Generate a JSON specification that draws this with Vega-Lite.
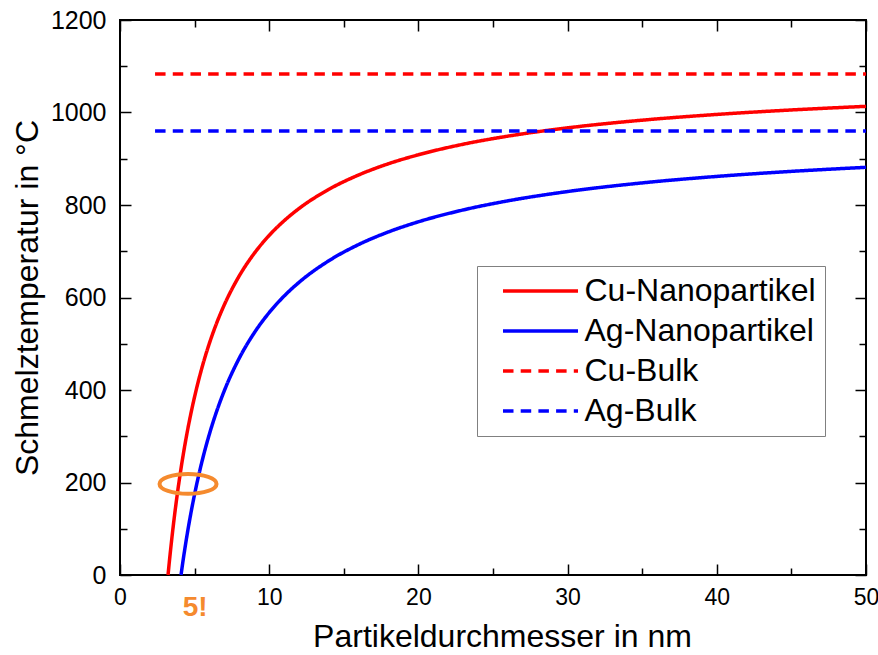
{
  "$schema": "https://vega.github.io/schema/vega-lite/v6.json",
  "width": 746,
  "height": 555,
  "autosize": "none",
  "padding": {"left": 120, "top": 20, "right": 12, "bottom": 80},
  "config": {
    "view": {"stroke": "black", "strokeWidth": 2},
    "font": "Liberation Sans",
    "axis": {
      "domain": false, "grid": false, "tickColor": "black", "tickWidth": 1.5,
      "labelColor": "black", "titleColor": "black", "labelFont": "Liberation Sans",
      "titleFont": "Liberation Sans", "titleFontWeight": "normal", "labelFlush": false
    },
    "legend": {
      "orient": "none", "legendX": 357, "legendY": 246, "padding": 9, "rowPadding": 8,
      "strokeColor": "#808080", "fillColor": "white", "labelFontSize": 32,
      "labelFont": "Liberation Sans", "labelColor": "black", "labelLimit": 400,
      "symbolType": "M-1,0L4.556,0", "symbolSize": 729, "symbolStrokeWidth": 3.5,
      "symbolOffset": 14.5, "labelOffset": 52
    }
  },
  "datasets": {
    "curves": [
      {"d": 3.22, "T": 0, "series": "Cu-Nanopartikel"},
      {"d": 3.3, "T": 26.3, "series": "Cu-Nanopartikel"},
      {"d": 3.4, "T": 57.3, "series": "Cu-Nanopartikel"},
      {"d": 3.5, "T": 86.6, "series": "Cu-Nanopartikel"},
      {"d": 3.6, "T": 114.3, "series": "Cu-Nanopartikel"},
      {"d": 3.8, "T": 165.3, "series": "Cu-Nanopartikel"},
      {"d": 4.0, "T": 211.2, "series": "Cu-Nanopartikel"},
      {"d": 4.25, "T": 262.5, "series": "Cu-Nanopartikel"},
      {"d": 4.5, "T": 308.1, "series": "Cu-Nanopartikel"},
      {"d": 4.75, "T": 348.8, "series": "Cu-Nanopartikel"},
      {"d": 5, "T": 385.5, "series": "Cu-Nanopartikel"},
      {"d": 5.5, "T": 449.0, "series": "Cu-Nanopartikel"},
      {"d": 6, "T": 501.8, "series": "Cu-Nanopartikel"},
      {"d": 6.5, "T": 546.5, "series": "Cu-Nanopartikel"},
      {"d": 7, "T": 584.8, "series": "Cu-Nanopartikel"},
      {"d": 8, "T": 647.1, "series": "Cu-Nanopartikel"},
      {"d": 9, "T": 695.5, "series": "Cu-Nanopartikel"},
      {"d": 10, "T": 734.3, "series": "Cu-Nanopartikel"},
      {"d": 11, "T": 766.0, "series": "Cu-Nanopartikel"},
      {"d": 12, "T": 792.4, "series": "Cu-Nanopartikel"},
      {"d": 14, "T": 833.9, "series": "Cu-Nanopartikel"},
      {"d": 16, "T": 865.0, "series": "Cu-Nanopartikel"},
      {"d": 18, "T": 889.3, "series": "Cu-Nanopartikel"},
      {"d": 20, "T": 908.6, "series": "Cu-Nanopartikel"},
      {"d": 23, "T": 931.4, "series": "Cu-Nanopartikel"},
      {"d": 26, "T": 948.9, "series": "Cu-Nanopartikel"},
      {"d": 30, "T": 966.8, "series": "Cu-Nanopartikel"},
      {"d": 35, "T": 983.4, "series": "Cu-Nanopartikel"},
      {"d": 40, "T": 995.8, "series": "Cu-Nanopartikel"},
      {"d": 45, "T": 1005.5, "series": "Cu-Nanopartikel"},
      {"d": 50, "T": 1013.3, "series": "Cu-Nanopartikel"},
      {"d": 4.09, "T": 0, "series": "Ag-Nanopartikel"},
      {"d": 4.2, "T": 25.1, "series": "Ag-Nanopartikel"},
      {"d": 4.35, "T": 57.4, "series": "Ag-Nanopartikel"},
      {"d": 4.5, "T": 87.5, "series": "Ag-Nanopartikel"},
      {"d": 4.75, "T": 133.4, "series": "Ag-Nanopartikel"},
      {"d": 5, "T": 174.7, "series": "Ag-Nanopartikel"},
      {"d": 5.25, "T": 212.1, "series": "Ag-Nanopartikel"},
      {"d": 5.5, "T": 246.1, "series": "Ag-Nanopartikel"},
      {"d": 6, "T": 305.6, "series": "Ag-Nanopartikel"},
      {"d": 6.5, "T": 355.9, "series": "Ag-Nanopartikel"},
      {"d": 7, "T": 399.1, "series": "Ag-Nanopartikel"},
      {"d": 8, "T": 469.2, "series": "Ag-Nanopartikel"},
      {"d": 9, "T": 523.7, "series": "Ag-Nanopartikel"},
      {"d": 10, "T": 567.4, "series": "Ag-Nanopartikel"},
      {"d": 11, "T": 603.1, "series": "Ag-Nanopartikel"},
      {"d": 12, "T": 632.8, "series": "Ag-Nanopartikel"},
      {"d": 14, "T": 679.5, "series": "Ag-Nanopartikel"},
      {"d": 16, "T": 714.6, "series": "Ag-Nanopartikel"},
      {"d": 18, "T": 741.9, "series": "Ag-Nanopartikel"},
      {"d": 20, "T": 763.7, "series": "Ag-Nanopartikel"},
      {"d": 23, "T": 789.3, "series": "Ag-Nanopartikel"},
      {"d": 26, "T": 809.0, "series": "Ag-Nanopartikel"},
      {"d": 30, "T": 829.1, "series": "Ag-Nanopartikel"},
      {"d": 35, "T": 847.8, "series": "Ag-Nanopartikel"},
      {"d": 40, "T": 861.8, "series": "Ag-Nanopartikel"},
      {"d": 45, "T": 872.7, "series": "Ag-Nanopartikel"},
      {"d": 50, "T": 881.5, "series": "Ag-Nanopartikel"},
      {"d": 2.35, "T": 1083, "series": "Cu-Bulk"},
      {"d": 50, "T": 1083, "series": "Cu-Bulk"},
      {"d": 2.35, "T": 960, "series": "Ag-Bulk"},
      {"d": 50, "T": 960, "series": "Ag-Bulk"}
    ],
    "mark": [{"d": 4.56, "T": 197}]
  },
  "layer": [
    {
      "data": {"name": "curves"},
      "mark": {"type": "line", "strokeWidth": 3.5, "interpolate": "monotone"},
      "encoding": {
        "x": {
          "field": "d", "type": "quantitative",
          "scale": {"domain": [0, 50], "nice": false, "zero": false},
          "axis": {
            "orient": "bottom", "values": [0, 10, 20, 30, 40, 50], "tickSize": -11,
            "labelFontSize": 23, "labelPadding": 22, "format": "d",
            "title": "Partikeldurchmesser in nm", "titleFontSize": 32,
            "titleY": 71, "titleX": 382, "titleBaseline": "alphabetic"
          }
        },
        "y": {
          "field": "T", "type": "quantitative",
          "scale": {"domain": [0, 1200], "nice": false, "zero": false},
          "axis": {
            "orient": "left", "values": [0, 200, 400, 600, 800, 1000, 1200], "tickSize": -11,
            "labelFontSize": 25, "labelPadding": 25, "format": "d",
            "title": "Schmelztemperatur in °C", "titleFontSize": 32,
            "titleX": -83, "titleBaseline": "alphabetic"
          }
        },
        "color": {
          "field": "series", "type": "nominal",
          "scale": {
            "domain": ["Cu-Nanopartikel", "Ag-Nanopartikel", "Cu-Bulk", "Ag-Bulk"],
            "range": ["#ff0000", "#0000ff", "#ff0000", "#0000ff"]
          },
          "legend": {"title": null}
        },
        "strokeDash": {
          "field": "series", "type": "nominal",
          "scale": {
            "domain": ["Cu-Nanopartikel", "Ag-Nanopartikel", "Cu-Bulk", "Ag-Bulk"],
            "range": [[1, 0], [1, 0], [10.5, 7.2], [10.5, 7.2]]
          },
          "legend": {"title": null}
        }
      }
    },
    {
      "data": {"name": "mark"},
      "mark": {
        "type": "point", "shape": "M-1,0A1,0.35,0,1,1,1,0A1,0.35,0,1,1,-1,0Z",
        "size": 3249, "filled": false, "color": "#F58A2E", "strokeWidth": 4, "opacity": 1
      },
      "encoding": {
        "x": {
          "field": "d", "type": "quantitative",
          "scale": {"domain": [0, 50], "nice": false, "zero": false},
          "axis": {
            "orient": "bottom", "values": [5, 15, 25, 35, 45], "tickSize": -7,
            "labelExpr": "datum.value == 5 ? '5!' : ''", "labelColor": "#F58A2E",
            "labelFontSize": 28, "labelFontWeight": "bold", "labelPadding": 25,
            "labelOverlap": false, "title": null
          }
        },
        "y": {
          "field": "T", "type": "quantitative",
          "scale": {"domain": [0, 1200], "nice": false, "zero": false},
          "axis": {
            "orient": "left", "values": [100, 300, 500, 700, 900, 1100], "tickSize": -7,
            "labels": false, "title": null
          }
        }
      }
    },
    {
      "data": {"name": "mark"},
      "mark": {"type": "point", "opacity": 0, "size": 1},
      "encoding": {
        "x": {
          "field": "d", "type": "quantitative",
          "scale": {"domain": [0, 50], "nice": false, "zero": false},
          "axis": {"orient": "top", "values": [0, 10, 20, 30, 40, 50], "tickSize": -11, "labels": false, "title": null}
        },
        "y": {
          "field": "T", "type": "quantitative",
          "scale": {"domain": [0, 1200], "nice": false, "zero": false},
          "axis": {"orient": "right", "values": [0, 200, 400, 600, 800, 1000, 1200], "tickSize": -11, "labels": false, "title": null}
        }
      }
    },
    {
      "data": {"name": "mark"},
      "mark": {"type": "point", "opacity": 0, "size": 1},
      "encoding": {
        "x": {
          "field": "d", "type": "quantitative",
          "scale": {"domain": [0, 50], "nice": false, "zero": false},
          "axis": {"orient": "top", "values": [5, 15, 25, 35, 45], "tickSize": -7, "labels": false, "title": null}
        },
        "y": {
          "field": "T", "type": "quantitative",
          "scale": {"domain": [0, 1200], "nice": false, "zero": false},
          "axis": {"orient": "right", "values": [100, 300, 500, 700, 900, 1100], "tickSize": -7, "labels": false, "title": null}
        }
      }
    }
  ],
  "resolve": {"axis": {"x": "independent", "y": "independent"}}
}
